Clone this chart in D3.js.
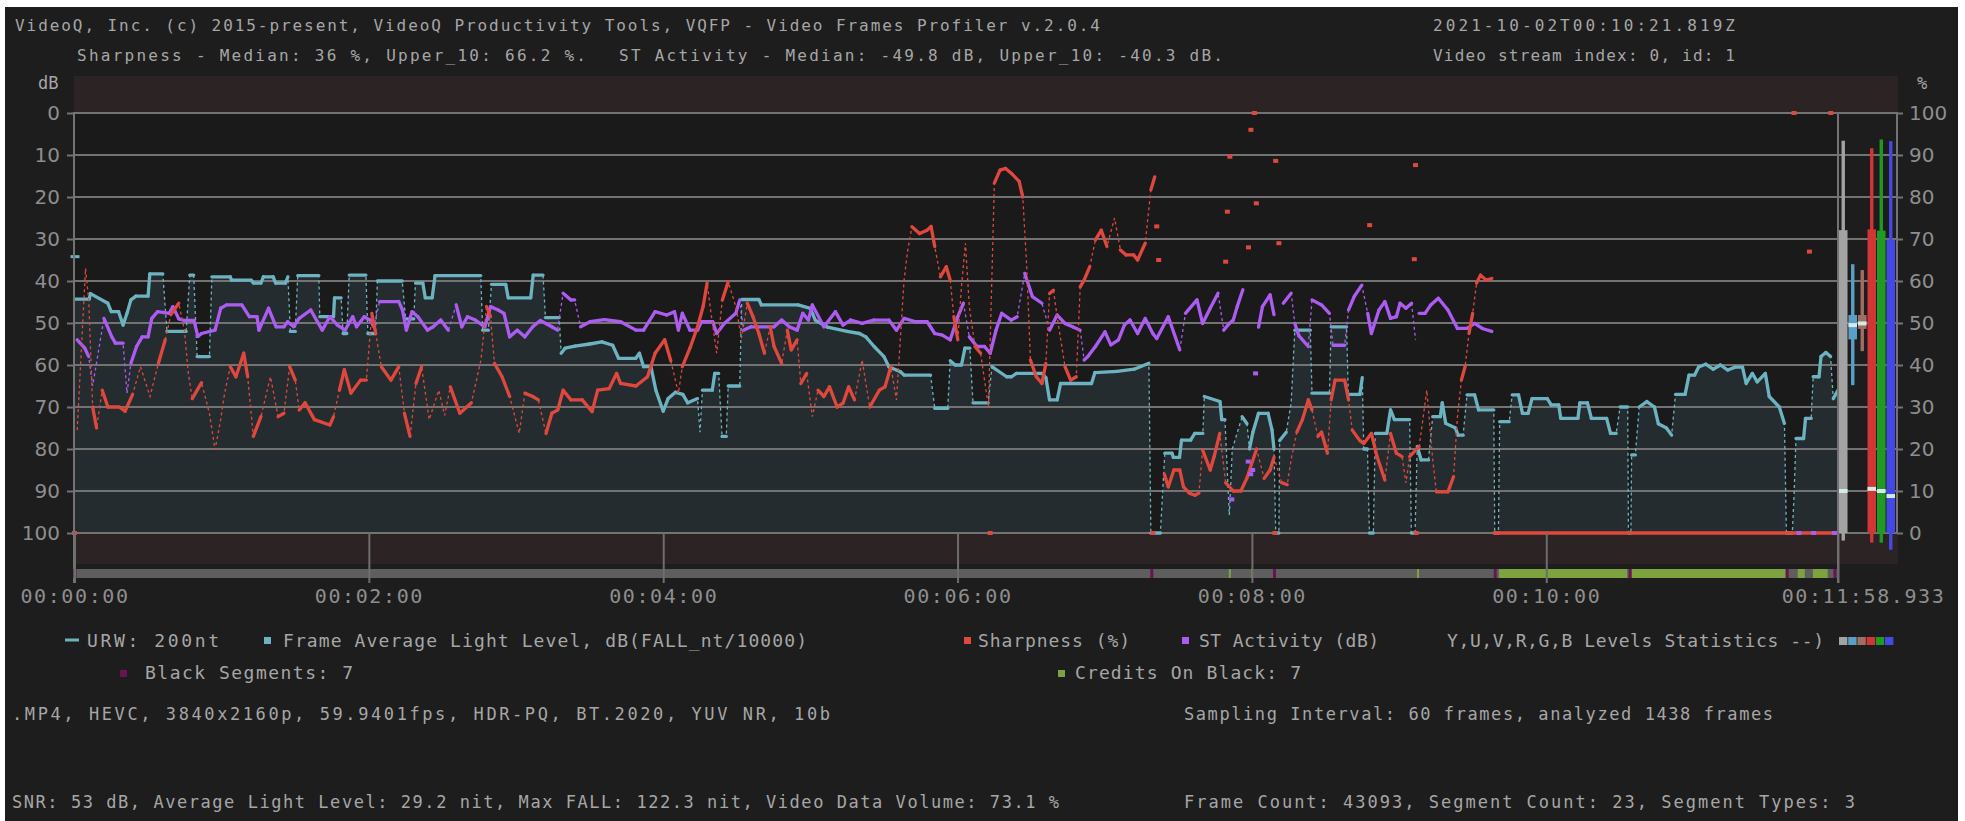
<!DOCTYPE html>
<html>
<head>
<meta charset="utf-8">
<script src="https://cdn.jsdelivr.net/npm/d3@7"></script>
<style>
    html, body { margin: 0; padding: 0; background: #ffffff; }
    svg { display: block; }
    .pix { font-family: "DejaVu Sans Mono", monospace; fill: #a6a6a6; }
    .axis text { font-family: "DejaVu Sans", sans-serif; font-size: 20px; fill: #8e8e8e; }
    .axis line { stroke: #737373; stroke-width: 2; }
    .taxis text { font-family: "DejaVu Sans Mono", monospace; font-size: 20px; letter-spacing: 1.6px; fill: #8e8e8e; }
    .taxis line { stroke: #6e6e6e; stroke-width: 2; }
</style>
</head>
<body>
<svg id="chart" width="1965" height="821"></svg>
<script>
// ---- data (time in seconds) ----
const duration = 718.933;
const timeTicks = [0, 120, 240, 360, 480, 600, 718.933];
const dbTicks = [0, 10, 20, 30, 40, 50, 60, 70, 80, 90, 100];
const urwLevel = 34.2; // URW 200nt marker, dB

// Frame Average Light Level, dB(FALL_nt/10000)
const fallData = [
    [0,44.3],[6,44.3],[6.5,43],[13.6,45.3],[15,47.3],[18,47.3],[19.8,50.5],[21.4,47.7],[23,44.5],[25,43.6],[30,43.6],
    [30.7,38.3],[36,38.3],[37.7,52],[45.5,52],[47,38.6],[48.6,38.6],[50,58],[55,58],[56,39],[63.5,39],[64,39.8],
    [72,39.8],[73,40.5],[76,40.5],[77,39],[81,39],[82,40.5],[86,40.5],[87,39],[88,52],[90,52],[91,38.7],[99.6,38.7],
    [100,48.5],[105.6,48.5],[106,44],[108.7,44],[109.5,52.5],[111,52.5],[112,38.6],[118.8,38.6],[119.6,52.5],
    [122.7,52.5],[123.5,40],[133.6,40],[135,49],[138.3,49],[139,40.5],[142,40.5],[143,44],[145.8,44],[147,38.7],
    [165.6,38.7],[166.4,51.7],[168.7,51.7],[170,40.8],[175.8,40.8],[176.8,44],[186,44],[187,38.6],[191,38.6],
    [192,48.7],[197.6,48.7],[198.4,57.2],[200,56],[204,55.5],[210,55],[215,54.5],[219.4,55.3],[221.8,58.4],
    [228.8,58.4],[230.3,57.2],[232,60.4],[235,60.4],[237,66],[240,71],
    [242,68],[245,66.5],[248,67],[250,69],[254,68],[255,76],[256,66],[260,66],[261,62],[262.6,62],[264,77],
    [265.7,77],[266.5,65],[271.2,65],[272,44.4],[279,44.4],[280,45.7],[295,45.7],[300,46.5],[302,49.3],[307,51],
    [315,52],[320,52.5],[322.6,53.3],[326,55.6],[330,58],[332,60.4],[336.7,61.6],[338.2,62.4],[349,62.4],
    [350.7,70.3],[356,70.3],[357,59],[359,60],[361.6,60],[363,56],[365,56],[366.3,69],[372.5,69],[374,60.4],
    [380,62.8],[382,62.8],[384,62],[394.4,62],[396,63],[397.5,68.3],[400.6,68.3],[402,64.4],[414.6,64.4],
    [416,61.8],[425,61.5],[432,61],[438,59.6],[438.8,100],[442.7,100],[443.5,91.3],[444.5,81],[447.4,81],
    [448,82],[450.5,82],[451.3,77.9],[455,77.9],[456.7,76.3],[460,76.3],[460.6,67.5],[467,68.7],[467.7,73],
    [469,73],[470.8,95.7],[472,80],[476,72.3],[478,74],
    [479,80],[480.4,76],[482.7,71.5],[486.6,71.5],[488.2,75.5],[489,80],[489.7,100],[491,100],[491.3,78],
    [494,76],[496,69],[497.5,51.7],[503.8,51.7],[504.5,66.7],[511.6,66.7],[512.3,50.9],[518.6,50.9],[519.3,67],
    [524,67],[525,63],[525.6,80],[527.1,80],[527.9,100],[529.5,100],[530.3,76.3],[535,76.3],[536.5,70.7],
    [538.1,73],[544.3,73],[545,100],[546.5,100],[547.4,79.4],[549,82.6],[552,82.6],[553.7,72.3],[556.8,72.3],
    [557.6,69],[559,73.9],[563,75],[564,76.7],[566.1,76.7],[567.7,67.1],[570.8,67.1],[572.4,70.7],[578.6,70.7],
    [579,100],[580.5,100],[581,73.5],[584.9,73.5],[586.1,67.1],[588.7,67.1],[590.3,71.5],[592.6,71.5],[594.2,68],
    [600.4,68],[602,69.5],[605.1,69.5],[605.9,72.7],[612.9,72.7],[613.7,69],[616.8,69],[618.4,72.7],[624.6,72.7],
    [626.2,76.3],[628.5,76.3],[630.1,70],[633.2,70],[633.5,100],[634.5,100],[634.8,81.4],[636.3,81.4],[637.9,70],
    [641,68.7],[644.1,70],[645.7,74],[649,75],[651.1,76.7],[652.7,67],[656.6,67],[658.2,62.4],[660.5,62.4],
    [662.1,60.5],[665,59.8],[668,61],[671,60],[674,61.2],[677,60.5],[680,60.5],[681.5,64.4],[684,62],[686,64],
    [689.3,62],[690.9,67.5],[695,70],[697.1,73.9],[697.9,100],[700.3,100],[701,91.3],[701.8,77.5],[704.9,77.5],
    [705.7,72.7],[708,72.7],[708.8,62.8],[711.2,62.8],[712,58],[714,57],[715.9,58],[717,68],[718.9,66]
];

// Sharpness (%)
const sharpData = [
    [1.1,24.5],[4.5,63],[5.8,55.5],[7.4,30],[9,25],[11.3,34],[13.6,30],[18.3,30],[20.6,29],[23.7,33],[26.9,39.6],
    [30.8,32.5],[34.2,40.4],[37,46],[39.3,52],[42.5,54.7],[44.8,48.3],[46.4,38],[48,32],[51.8,35.8],[55,28.5],
    [57.3,19.8],[59.6,27],[61.2,33.3],[63.5,39.6],[65.8,37.2],[69,42.8],[70.6,37.2],[72.9,23],[76,27.7],
    [79.9,37.2],[83,27.7],[85.4,28.5],[87.7,39.6],[90,36.4],[91.6,29.3],[94,31],[97.8,27],[104.1,25.7],
    [105.6,27.7],[108,34],[110,38.9],[112.7,33.3],[116.6,36.4],[119,36.4],[121.2,52.3],[122.8,47.5],[125.1,39.6],
    [129,36.4],[132.2,39.6],[134.5,28.5],[136.8,23],[139.2,35.6],[141.5,39.6],[144.6,27],[148.5,34],[150.9,28],
    [153.2,34.8],[157.1,28.5],[161.8,31],[165.7,41.2],[168,53.9],[169.6,51.5],[171.2,40.4],[174.3,37.2],
    [177.4,32.5],[181.3,23.7],[183.6,33.3],[186.8,32.5],[189.1,31.7],[192.2,23.7],[194.6,28.5],[197,29.3],
    [199.2,34],[202.4,31.7],[207,31.7],[211,28.9],[213.3,34],[218,34.4],[221,38],[222.6,35.6],[228.9,35],
    [233.6,37.2],[236.7,42.8],[240.6,46],
    [243.1,41],[246.2,33.3],[247.8,39.6],[250.9,44],[254,49.1],[256.3,54],[257.9,59.5],[259.5,52.3],[261.8,42.8],
    [264.1,55.5],[266.5,59.8],[269.6,53.9],[271.9,46.4],[274.3,54.7],[276.6,51.5],[279,47.5],[281.3,42.8],
    [283.6,49.1],[285.2,44.4],[288.3,40.4],[290.6,48.3],[292.2,43.6],[294.6,46],[296.1,35.6],[298.5,38],
    [300.8,27.7],[303.1,34],[305.5,32.5],[307.8,34.8],[310.9,30],[313.3,30.9],[315.6,34.8],[318,31.7],
    [321.1,41.2],[324.2,30],[328.1,34],[330.4,34.8],[332.8,39.6],[335.1,31.7],[338.2,60.2],[339.5,66.6],
    [341.4,72.9],[344.5,71.3],[347.6,72.1],[349.2,73],[350.7,68.2],[353,61],[355.4,63.4],[357,60.2],[358.5,51.5],
    [360.1,46],[361.6,58.6],[363.2,69],[364.8,53.9],[367.1,44.4],[369.4,42.8],[372.6,30],[375,83.3],[377.3,86.4],
    [379.6,86.8],[382,85.6],[385.1,83.7],[386.6,80],[388.2,63.4],[389.7,41.2],[392.1,37.2],[394.4,35.6],
    [396,40.4],[397.5,57],[399.1,57.8],[400.6,51.5],[403.8,39.6],[406.1,36.4],[408.4,37.2],[410,58.6],
    [411.6,60.2],[413.9,63.4],[416.2,69.8],[418.6,72.1],[420.9,68.2],[424,75],[426.4,67.4],[428.7,66.2],
    [431.8,66.2],[433.4,65],[436.5,69],[438.8,81.7],[440.4,84.8],[442,null],
    [444.3,14],[445.9,11],[448.2,15],[450.6,15],[452.1,11],[454.5,9.5],[456.8,9],[458.4,9.5],[459.9,19.8],
    [463,15],[464.6,18.2],[466.9,23.7],[469.3,12],[472.4,10],[475.5,10],[477.9,13],
    [481.9,20],[485,13],[487.4,15],[489,18],[492.1,12],[494.4,11.5],[496,17.5],[498.3,24],[500.6,27],[503,31.7],
    [504.5,29.3],[506.9,23],[508.4,24],[510.8,19],[512.3,31.7],[513.9,36.4],[517.8,36.4],[519.4,31.7],
    [520.9,24.5],[524,22],[525.6,21.3],[528.7,23.7],[531,18.2],[534.2,12.6],[536.5,23.7],[538.9,19],[541.2,18.2],
    [542.8,11.9],[544.3,18.2],[548.2,20.6],[551.3,34],[553.7,17.5],[555.2,9.8],[557.6,9.8],[559.9,9.8],
    [562.2,13.4],[563.8,27.7],[565.4,36.4],[566.9,39.6],[568.5,47.5],[570,52.3],[571.6,59.5],[573.2,61.4],
    [575.5,60.2],[577.8,60.6],[578.2,null],[578.6,0],[718.9,0]
];
// isolated sharpness samples
const sharpDots = [
    [0,0],[373.3,0],[439.6,0],[441.2,73],[442,65],[469.3,64.6],[470,76.5],[471,89.6],[478.6,68],[479.6,96],
    [481,100],[481.8,78.5],[489.4,0],[489.7,88.6],[491,69],[528,73.3],[546.2,65.2],[546.7,87.6],[547,0],
    [701,100],[707.3,67],[716,100]
];

// ST Activity (dB)
const stData = [
    [1.1,54],[4.2,56],[5.8,58],[7.4,65],[12,48.9],[15.2,53.3],[16.7,54.8],[19.8,54.8],[21.4,66.7],[23,59.6],
    [25.3,55.6],[27.6,53.3],[30,53.3],[31.5,48.9],[33.9,47.3],[38.6,47.7],[40.1,46.1],[42.5,49],[44.8,49.4],
    [48.7,49.4],[50.3,53.2],[51.8,52.5],[57.3,51.7],[59.6,46.5],[62,45.7],[68.2,45.7],[71.3,48.5],[74.4,48.5],
    [75.2,51.7],[79.1,46.5],[82.2,50.9],[85.4,50.9],[86.9,49.7],[89.3,50.9],[91.6,48.9],[96.3,46.9],[101,51.7],
    [104.1,48.5],[107.2,50.5],[110.3,51.7],[113.4,48.5],[115,50.9],[118.1,48.5],[120.5,49.3],[122,50.9],
    [124.4,44.9],[132.2,44.9],[133.7,46.9],[135.3,51.7],[137.6,47.3],[140,48.5],[143.9,51.7],[146.2,50.9],
    [149.3,49.3],[152.4,51.7],[155.6,45.7],[157.9,50.9],[160.2,48.5],[163.4,49.3],[167.3,50.9],[169.6,46.1],
    [172.7,46.9],[175.1,47.7],[177.4,53.3],[180.5,51.7],[183.6,53.3],[186.8,50.9],[189.9,49.4],[194.6,50.9],
    [196.9,51.7],[199.2,42.9],[202.4,44.5],[203.9,44.5],[206.3,50.9],[210.2,49.7],[216,49.2],[222.6,49.7],
    [228.9,51.7],[232,51.7],[236.7,47.3],[241.4,48.1],
    [244.6,47.3],[246.2,51.7],[247.8,47.7],[250.9,51.7],[254,51.7],[255.6,49.7],[260.2,49.7],[261.8,52.5],
    [264.9,50.1],[269.6,47.7],[271.2,44.5],[272.7,51.7],[275.8,50.9],[285.2,50.9],[288.3,49.3],[291.4,50.9],
    [294.6,51.7],[296.9,47.7],[299.2,49.3],[300.8,45.7],[305.5,50.9],[310.2,47.3],[313.3,50.5],[316.4,49.3],
    [321.1,50.1],[325.8,49.3],[332,49.3],[335.1,51.7],[338.2,48.9],[342.9,49.7],[347.6,49.7],[350.7,52.5],
    [353.8,52.9],[357,54],[360.1,48.5],[362.4,45.3],[364.8,53.3],[367.9,55.6],[371,55.6],[373.3,57.2],
    [375.7,51.7],[378,47.7],[381.9,49.3],[384.3,48.5],[387.4,38.2],[390.5,43.7],[394.4,45.3],[397.5,51.7],
    [400.6,48.1],[403.8,50.1],[406.9,50.9],[410,51.7],[411.6,58.8],[413.1,58],[416.2,55.6],[420.1,52.1],
    [422.5,55.2],[425.6,54],[428,50.5],[430.3,49.3],[433.4,52.5],[436.5,48.9],[439.6,52.5],[441.2,53.7],
    [445.9,48.5],[450.6,56.4],[452.9,47.7],[457.6,44.5],[459.9,50.1],[463,46.5],[466.2,42.9],[468.5,51.7],
    [470.8,50.1],[472.4,49.3],[474,46.1],[476.3,42.1],[477,null],
    [482.7,51],[484.3,46.1],[487.4,43.3],[489,48],[490,null],[492.8,45.3],[496,42.9],[497.5,50.1],[499.1,53],
    [503,55.6],[504.5,44.5],[508.4,45.7],[511.6,47.7],[513.1,55.3],[517.8,55.3],[519.4,46.9],[521.7,43.7],
    [524.8,41],[527.2,47.7],[528.7,52.5],[531.8,46.9],[534.2,44.9],[536.5,48.9],[538.9,48.5],[540.4,45.3],
    [542.8,46.5],[545.1,45.3],[546.7,54],[547.5,null],[548.2,47.7],[550.6,47.7],[552.9,45.7],[556,44.1],
    [559.9,46.9],[563.8,51.3],[567.7,51.3],[570.8,50.1],[573.9,51.3],[577.8,52]
];
const stDots = [[471.8,92],[478.5,83],[479.5,86],[480.3,85],[481.5,62],[703,100],[709,100],[717.5,100]];

// segment bar under the time axis
const blackSegments = [0, 439, 489, 579, 634, 698, 717.5];
const creditSegments = [[470.6,471.4],[479.6,480.4],[547.3,548.1],[580.7,633],[634.6,697.6],[702.5,705.4],[708.7,714.7]];

// Y,U,V,R,G,B levels statistics (%)
const levelNames = ['Y', 'U', 'V', 'R', 'G', 'B'];
const levelColors = ['#a3a3a3', '#5a9fc6', '#a06e62', '#d23535', '#1f9a23', '#4747e4'];
const levelMax = [93.4, 64, 62.6, 91.6, 93.7, 93.3];
const levelMin = [-1.8, 35.2, 43.3, -2.3, -2.3, -4];
const levelQ3 = [72.1, 51.9, 51.9, 72.3, 72, 69.8];
const levelQ1 = [0, 46.1, 48.6, 0, 0, 0];
const levelMedian = [10, 49.5, 49.9, 10.5, 10, 8.8];

// ---- colours ----
const cFall = '#6cb3c1';
const cSharp = '#e0483d';
const cSt = '#ad5cf2';
const cGrid = '#737373';

const svg = d3.select('#chart');

// Scales
const x = d3.scaleLinear().domain([0, duration]).range([74.5, 1838]);
const yDb = d3.scaleLinear().domain([0, 100]).range([113, 533]);
const yPct = d3.scaleLinear().domain([0, 100]).range([533, 113]);
const xLevel = d3.scaleBand().domain(levelNames).range([1838, 1896]).paddingInner(0.1).paddingOuter(0.1);

// Background
svg.append('rect').attr('x', 5).attr('y', 7).attr('width', 1953).attr('height', 814).attr('fill', '#1d1d1d');
svg.append('rect').attr('x', 74).attr('y', 76).attr('width', 1824).attr('height', 37).attr('fill', '#2b2324');
svg.append('rect').attr('x', 74).attr('y', 533).attr('width', 1824).attr('height', 31).attr('fill', '#2b2324');
svg.append('rect').attr('x', 74).attr('y', 113).attr('width', 1764).attr('height', 420).attr('fill', '#1a1a1a');

const plot = svg.append('g');

// FALL filled area
plot.append('path')
    .datum(fallData)
    .attr('fill', '#252c30')
    .attr('d', d3.area().x(d => x(d[0])).y0(yDb(100)).y1(d => yDb(d[1])));

// Horizontal grid
plot.selectAll('.grid').data(dbTicks).join('line')
    .attr('class', 'grid')
    .attr('x1', 74).attr('x2', 1897)
    .attr('y1', d => yDb(d)).attr('y2', d => yDb(d))
    .attr('stroke', cGrid).attr('stroke-width', 2);

// dotted thin line everywhere, thick where consecutive samples stay close
function drawSeries(data, yScale, color) {
    const line = d3.line().defined(d => d[1] != null).x(d => x(d[0])).y(d => yScale(d[1]));
    plot.append('path').datum(data).attr('d', line)
        .attr('fill', 'none').attr('stroke', color).attr('stroke-width', 1.3)
        .attr('stroke-dasharray', '3,3');
    const segs = d3.pairs(data).filter(([a, b]) => {
        if (a[1] == null || b[1] == null) return false;
        const dy = Math.abs(yScale(b[1]) - yScale(a[1]));
        return dy <= Math.max(3 * (x(b[0]) - x(a[0])), 24);
    });
    plot.append('g').selectAll('line').data(segs).join('line')
        .attr('x1', d => x(d[0][0])).attr('y1', d => yScale(d[0][1]))
        .attr('x2', d => x(d[1][0])).attr('y2', d => yScale(d[1][1]))
        .attr('stroke', color).attr('stroke-width', 3.3).attr('stroke-linecap', 'round');
}

function drawDots(data, yScale, color) {
    plot.append('g').selectAll('rect').data(data).join('rect')
        .attr('x', d => x(d[0]) - 2.5).attr('y', d => yScale(d[1]) - 2)
        .attr('width', 5).attr('height', 4).attr('fill', color);
}

drawSeries(fallData, yDb, cFall);
drawSeries(stData, yDb, cSt);
drawSeries(sharpData, yPct, cSharp);
drawDots(sharpDots, yPct, cSharp);
drawDots(stDots, yDb, cSt);

// URW reference marker on the left edge
plot.append('line')
    .attr('x1', x(0) - 4).attr('x2', x(0) + 5)
    .attr('y1', yDb(urwLevel)).attr('y2', yDb(urwLevel))
    .attr('stroke', cFall).attr('stroke-width', 3);

// Levels statistics panel
const lv = plot.append('g').selectAll('g').data(levelNames).join('g');
lv.append('rect')
    .attr('x', (d) => xLevel(d) + xLevel.bandwidth() / 2 - 1.7)
    .attr('width', 3.4)
    .attr('y', (d, i) => yPct(levelMax[i]))
    .attr('height', (d, i) => yPct(levelMin[i]) - yPct(levelMax[i]))
    .attr('fill', (d, i) => levelColors[i]);
lv.append('rect')
    .attr('x', d => xLevel(d))
    .attr('width', xLevel.bandwidth())
    .attr('y', (d, i) => yPct(levelQ3[i]))
    .attr('height', (d, i) => yPct(levelQ1[i]) - yPct(levelQ3[i]))
    .attr('fill', (d, i) => levelColors[i]);
lv.append('rect')
    .attr('x', d => xLevel(d))
    .attr('width', xLevel.bandwidth())
    .attr('y', (d, i) => yPct(levelMedian[i]) - 2)
    .attr('height', 4)
    .attr('fill', '#d2ecec');

// Box borders
svg.append('line').attr('x1', 74).attr('x2', 74).attr('y1', 112).attr('y2', 583).attr('stroke', cGrid).attr('stroke-width', 2);
svg.append('line').attr('x1', 1838).attr('x2', 1838).attr('y1', 112).attr('y2', 583).attr('stroke', cGrid).attr('stroke-width', 2);
svg.append('line').attr('x1', 1897).attr('x2', 1897).attr('y1', 112).attr('y2', 534).attr('stroke', cGrid).attr('stroke-width', 2);

// Segment bar
svg.append('rect').attr('x', x(0)).attr('y', 569).attr('width', x(duration) - x(0)).attr('height', 9).attr('fill', '#5e5e5e');
svg.append('g').selectAll('rect').data(creditSegments).join('rect')
    .attr('x', d => x(d[0])).attr('width', d => Math.max(2, x(d[1]) - x(d[0])))
    .attr('y', 569).attr('height', 9).attr('fill', '#7ca33d');
svg.append('g').selectAll('rect').data(blackSegments).join('rect')
    .attr('x', d => Math.min(x(d), 1835) - 1).attr('width', 3)
    .attr('y', 569).attr('height', 9).attr('fill', '#6b1352');

// Axes
const fmtTime = t => {
    const m = Math.floor(t / 60), s = t - m * 60;
    const ss = Number.isInteger(s) ? String(s).padStart(2, '0') : s.toFixed(3).padStart(6, '0');
    return '00:' + String(m).padStart(2, '0') + ':' + ss;
};

const tAxis = svg.append('g')
    .attr('class', 'taxis')
    .attr('transform', 'translate(0,533)')
    .call(d3.axisBottom(x).tickValues(timeTicks).tickSize(50).tickPadding(6).tickFormat(fmtTime));
tAxis.select('.domain').remove();
tAxis.selectAll('.tick').filter(d => d === duration).select('text').attr('x', 25);

const lAxis = svg.append('g')
    .attr('class', 'axis')
    .attr('transform', 'translate(74,0)')
    .call(d3.axisLeft(yDb).tickValues(dbTicks).tickSize(7).tickPadding(7));
lAxis.select('.domain').remove();

const rAxis = svg.append('g')
    .attr('class', 'axis')
    .attr('transform', 'translate(1897,0)')
    .call(d3.axisRight(yPct).tickValues(dbTicks).tickSize(6).tickPadding(6));
rAxis.select('.domain').remove();

// Texts
function txt(s, xPos, y, len, size) {
    const t = svg.append('text').attr('class', 'pix')
        .attr('x', xPos).attr('y', y)
        .attr('font-size', size)
        .text(s);
    if (len) t.attr('textLength', len).attr('lengthAdjust', 'spacing');
}

txt('VideoQ, Inc. (c) 2015-present, VideoQ Productivity Tools, VQFP - Video Frames Profiler v.2.0.4', 15, 31, 1085, 16);
txt('Sharpness - Median: 36 %, Upper_10: 66.2 %.', 77, 61, 509, 16);
txt('ST Activity - Median: -49.8 dB, Upper_10: -40.3 dB.', 619, 61, 604, 16);
txt('2021-10-02T00:10:21.819Z', 1433, 31, 302, 16);
txt('Video stream index: 0, id: 1', 1433, 61, 302, 16);
txt('dB', 38, 89, 0, 17);
txt('%', 1917, 89, 0, 17);

// Legend
svg.append('line').attr('x1', 65).attr('x2', 79).attr('y1', 640).attr('y2', 640).attr('stroke', cFall).attr('stroke-width', 3);
txt('URW: 200nt', 87, 647, 132, 18);
const legendSquares = [[264, 637, cFall], [964, 637, cSharp], [1182, 637, cSt], [120, 670, '#6b1352'], [1058, 670, '#7ca33d']];
svg.append('g').selectAll('rect').data(legendSquares).join('rect')
    .attr('x', d => d[0]).attr('y', d => d[1]).attr('width', 7).attr('height', 7).attr('fill', d => d[2]);
txt('Frame Average Light Level, dB(FALL_nt/10000)', 283, 647, 524, 18);
txt('Sharpness (%)', 978, 647, 152, 18);
txt('ST Activity (dB)', 1199, 647, 180, 18);
txt('Y,U,V,R,G,B Levels Statistics --)', 1447, 647, 377, 18);
svg.append('g').selectAll('rect').data(levelColors).join('rect')
    .attr('x', (d, i) => 1839 + i * 9.2).attr('y', 637).attr('width', 8.4).attr('height', 8).attr('fill', d => d);
txt('Black Segments: 7', 145, 679, 208, 18);
txt('Credits On Black: 7', 1075, 679, 226, 18);

// Info lines
txt('.MP4, HEVC, 3840x2160p, 59.9401fps, HDR-PQ, BT.2020, YUV NR, 10b', 12, 720, 818, 17);
txt('Sampling Interval: 60 frames, analyzed 1438 frames', 1184, 720, 589, 17);
txt('SNR: 53 dB, Average Light Level: 29.2 nit, Max FALL: 122.3 nit, Video Data Volume: 73.1 %', 12, 808, 1047, 17);
txt('Frame Count: 43093, Segment Count: 23, Segment Types: 3', 1184, 808, 671, 17);
</script>
</body>
</html>
